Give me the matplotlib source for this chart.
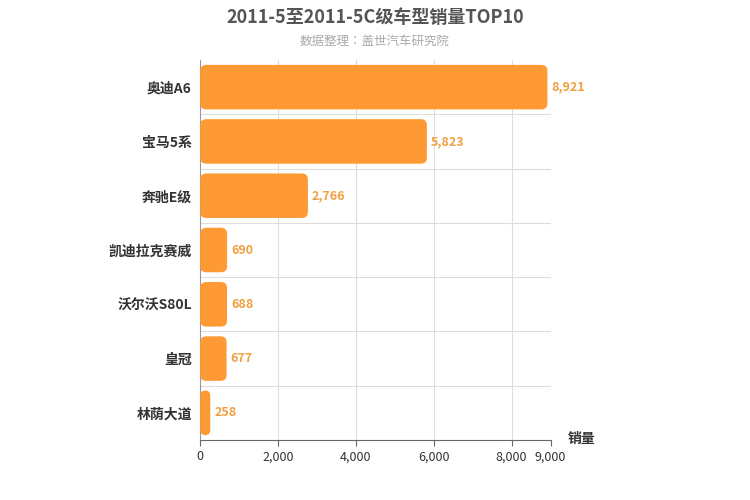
import matplotlib
matplotlib.use("Agg")
import matplotlib.pyplot as plt
from matplotlib.patches import FancyBboxPatch
from matplotlib import font_manager

names = {f.name for f in font_manager.fontManager.ttflist}
cjk = [n for n in ["Noto Sans CJK SC", "Noto Sans CJK JP", "Noto Sans CJK TC",
                   "Noto Sans CJK KR", "Noto Sans SC", "Noto Sans CJK"] if n in names]
if not cjk:
    cjk = [n for n in names if "CJK" in n]
plt.rcParams['font.family'] = ['sans-serif']
plt.rcParams['font.sans-serif'] = cjk + ['DejaVu Sans']

categories = ["奥迪A6", "宝马5系", "奔驰E级", "凯迪拉克赛威", "沃尔沃S80L", "皇冠", "林荫大道"]
values = [8921, 5823, 2766, 690, 688, 677, 258]
xticks = [0, 2000, 4000, 6000, 8000, 9000]
xticklabels = ["0", "2,000", "4,000", "6,000", "8,000", "9,000"]

color = "#FF9933"
fig = plt.figure(figsize=(7.5, 5), dpi=100)
ax = fig.add_axes([0.267, 0.12, 0.467, 0.76])
ax.set_xlim(0, 9000)
n = len(categories)
ax.set_ylim(n - 0.5, -0.5)

px_x = 9000 / 350
px_y = n / 380
h = 0.82
for i, v in enumerate(values):
    r = min(6 * px_x, v / 2)
    p = FancyBboxPatch((0, i - h / 2), v, h,
                       boxstyle=f"round,pad=0,rounding_size={r}",
                       mutation_aspect=px_y / px_x,
                       fc=color, ec="none", zorder=3)
    ax.add_patch(p)
    ax.text(v + 4 * px_x, i, f"{v:,}", va="center", ha="left",
            color="#F0A040", fontsize=9, fontweight="bold", zorder=4)

ax.set_yticks(range(n))
ax.set_yticklabels(categories, fontsize=10, fontweight="bold", color="#333333")
ax.set_xticks(xticks)
ax.set_xticklabels(xticklabels, fontsize=9, color="#333333")
ax.tick_params(axis="y", length=0, pad=6)
ax.tick_params(axis="x", length=4, color="#666666")
for x in xticks[1:]:
    ax.axvline(x, color="#dddddd", lw=0.8, zorder=1)
for b in range(n - 1):
    ax.axhline(b + 0.5, color="#dddddd", lw=0.8, zorder=1)
for s in ["top", "right"]:
    ax.spines[s].set_visible(False)
ax.spines["left"].set_color("#999999")
ax.spines["bottom"].set_color("#666666")

fig.text(0.5, 0.965, "2011-5至2011-5C级车型销量TOP10", ha="center", va="center",
         fontsize=13, fontweight="bold", color="#555555")
fig.text(0.5, 0.918, "数据整理：盖世汽车研究院", ha="center", va="center",
         fontsize=9, color="#aaaaaa")
fig.text(0.775, 0.123, "销量", ha="center", va="center", fontsize=10,
         fontweight="bold", color="#333333")

fig.savefig("out.png", dpi=100)
